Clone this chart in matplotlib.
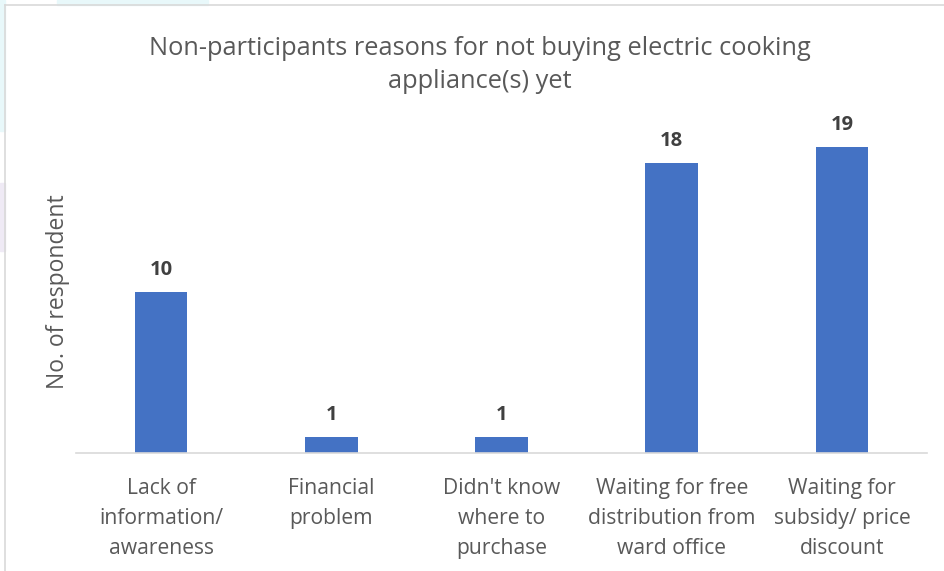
import matplotlib.pyplot as plt
from matplotlib.lines import Line2D
from matplotlib.patches import Rectangle

reasons = ["Lack of\ninformation/\nawareness",
           "Financial\nproblem",
           "Didn't know\nwhere to\npurchase",
           "Waiting for free\ndistribution from\nward office",
           "Waiting for\nsubsidy/ price\ndiscount"]
respondents = [10, 1, 1, 18, 19]

plt.rcParams['font.family'] = ['Open Sans', 'DejaVu Sans']

fig = plt.figure(figsize=(9.44, 5.71), dpi=100)

# faint background showing around the chart frame
fig.patches.append(Rectangle((0, 0.77), 0.005, 0.23, transform=fig.transFigure,
                             color='#e8f8fa', zorder=0))
fig.patches.append(Rectangle((0, 0.56), 0.005, 0.12, transform=fig.transFigure,
                             color='#efeaf5', zorder=0))
fig.patches.append(Rectangle((0.06, 0.992), 0.16, 0.008, transform=fig.transFigure,
                             color='#e8f8fa', zorder=0))

# chart frame (left and top edges)
fig.lines.append(Line2D([5/944, 5/944], [0, 1 - 5/571], transform=fig.transFigure,
                        color='#d9d9d9', lw=1.2))
fig.lines.append(Line2D([5/944, 1], [1 - 5/571, 1 - 5/571], transform=fig.transFigure,
                        color='#d9d9d9', lw=1.2))

ax = fig.add_axes([76/944, 118/571, 851/944, 322/571])
x = range(len(reasons))
bars = ax.bar(x, respondents, width=0.31, color='#4472c4')
ax.set_xlim(-0.5, len(reasons) - 0.5)
ax.set_ylim(0, 20)

for b, v in zip(bars, respondents):
    ax.text(b.get_x() + b.get_width() / 2, v + 0.75, str(v), ha='center', va='bottom',
            fontsize=14.5, fontweight='bold', color='#404040')

ax.set_xticks(list(x))
ax.set_xticklabels(reasons, fontsize=15.2, color='#595959', linespacing=1.55)
ax.tick_params(axis='x', length=0, pad=18)
ax.set_yticks([])
for side in ['top', 'right', 'left']:
    ax.spines[side].set_visible(False)
ax.spines['bottom'].set_color('#d9d9d9')
ax.spines['bottom'].set_linewidth(1.2)

ax.set_ylabel("No. of respondent", fontsize=16.5, color='#595959', labelpad=4)

fig.text(480/944, 1 - 65/571,
         "Non-participants reasons for not buying electric cooking\nappliance(s) yet",
         ha='center', va='center', fontsize=18.3, color='#595959', linespacing=1.45)

fig.savefig('out.png', dpi=100)
